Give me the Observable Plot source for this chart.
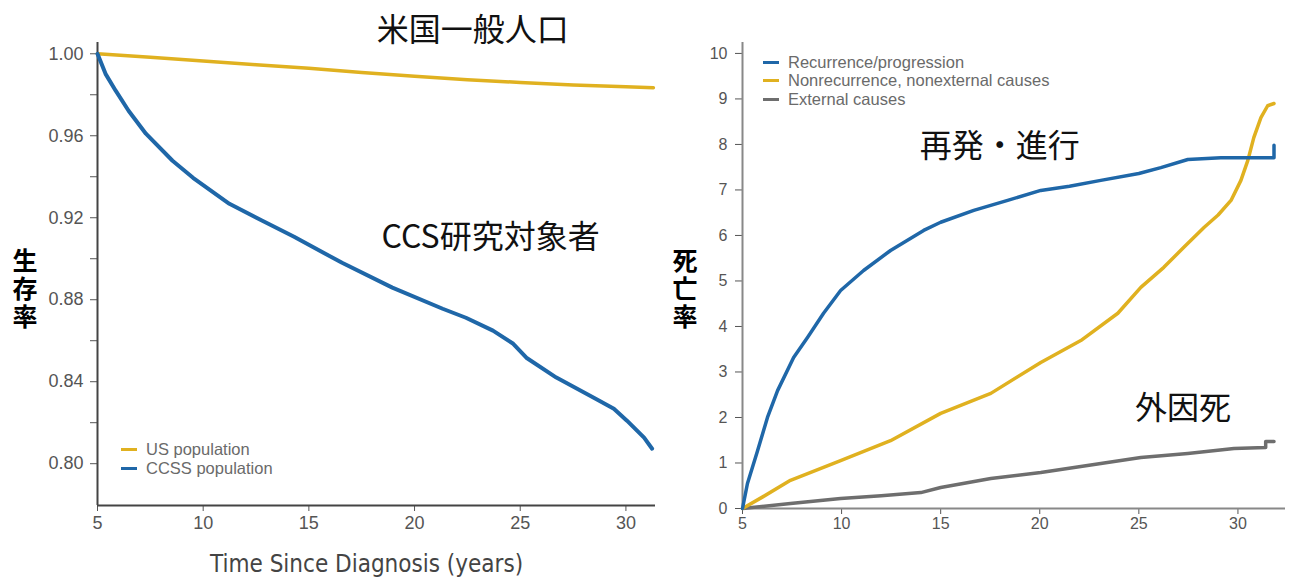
<!DOCTYPE html>
<html>
<head>
<meta charset="utf-8">
<script src="https://cdn.jsdelivr.net/npm/d3@7"></script>
<script src="https://cdn.jsdelivr.net/npm/@observablehq/plot@0.6"></script>
<style>
  html, body { margin: 0; padding: 0; background: #fff; }
  #wrap { position: relative; width: 1292px; height: 579px; overflow: hidden; background: #fff; }
  #left, #right { position: absolute; top: 0; }
  #left { left: 0; }
  #right { left: 660px; }
  .ylab { position: absolute; font-family: "Noto Sans CJK JP", sans-serif; font-weight: 700; font-size: 25px; line-height: 30px; color: #000; writing-mode: vertical-rl; text-orientation: upright; letter-spacing: 3px; }
  .xlab { position: absolute; font-family: "Liberation Sans Narrow", "DejaVu Sans Condensed", sans-serif; font-size: 24px; color: #444; white-space: nowrap; }
  .legend { position: absolute; font-family: "Liberation Sans", Arial, sans-serif; color: #6a6a6a; white-space: nowrap; }
  .legend div { display: flex; align-items: center; }
  .legend span.sw { display: inline-block; width: 16px; height: 3px; margin-right: 9px; }
</style>
</head>
<body>
<div id="wrap">
  <div id="left"></div>
  <div id="right"></div>
</div>
<script>
// ---------- Data ----------
const leftYTicks = [0.80, 0.82, 0.84, 0.86, 0.88, 0.90, 0.92, 0.94, 0.96, 0.98, 1.00];
const xTicks = [5, 10, 15, 20, 25, 30];
const rightYTicks = [0, 1, 2, 3, 4, 5, 6, 7, 8, 9, 10];

const leftSeries = ["US population", "CCSS population"];
const rightSeries = ["Recurrence/progression", "Nonrecurrence, nonexternal causes", "External causes"];

const usYears = [5, 7.5, 10, 12.5, 15, 17.5, 20, 22.5, 25, 27.5, 30, 31.3];
const usSurv  = [1.000, 0.9983, 0.9965, 0.9947, 0.9929, 0.9909, 0.9890, 0.9873, 0.9860, 0.9848, 0.9839, 0.9834];

const ccssYears = [5, 5.38, 5.86, 6.47, 7.29, 8.55, 9.52, 11.24, 12.8, 14.3, 16.57, 18.95, 21.33, 22.43, 23.71, 24.67, 25.29, 26.71, 28.48, 29.43, 30.05, 30.86, 31.24];
const ccssSurv  = [1.000, 0.9902, 0.9820, 0.9722, 0.9610, 0.9478, 0.9395, 0.9268, 0.9185, 0.9107, 0.8980, 0.8859, 0.8756, 0.8712, 0.8649, 0.8585, 0.8517, 0.8420, 0.8322, 0.8268, 0.8210, 0.8127, 0.8073];

const recYears = [5, 5.25, 5.76, 6.26, 6.77, 7.58, 8.28, 9.09, 9.95, 11.11, 12.47, 14.14, 15.0, 16.67, 18.38, 20.05, 21.5, 23.08, 25.0, 26.11, 27.47, 29.14, 31.82, 31.82];
const recVals  = [0, 0.55, 1.27, 2.0, 2.59, 3.32, 3.76, 4.29, 4.79, 5.23, 5.67, 6.11, 6.29, 6.55, 6.77, 6.99, 7.08, 7.21, 7.36, 7.49, 7.67, 7.71, 7.71, 7.98];

const nonYears = [5, 6, 7.42, 9.95, 12.47, 15, 17.53, 20.05, 22.07, 23.94, 25.1, 26.26, 27.27, 28.3, 29.0, 29.65, 30.15, 30.5, 30.8, 31.16, 31.5, 31.82];
const nonVals  = [0, 0.25, 0.62, 1.05, 1.49, 2.09, 2.53, 3.21, 3.69, 4.29, 4.86, 5.30, 5.74, 6.18, 6.45, 6.77, 7.21, 7.65, 8.15, 8.59, 8.85, 8.90];

const extYears = [5, 7.42, 9.95, 12.0, 14.0, 15.0, 17.53, 20.05, 23.08, 25.1, 27.47, 29.8, 31.4, 31.4, 31.82];
const extVals  = [0, 0.11, 0.22, 0.28, 0.35, 0.46, 0.66, 0.79, 0.99, 1.12, 1.21, 1.32, 1.34, 1.47, 1.47];

const gold = "#e0b120";
const blue = "#1f67a8";
const gray = "#6e6e6e";

const rows = (xs, ys, s) => xs.map((x, i) => ({x, y: ys[i], s}));

const usRows = rows(usYears, usSurv, leftSeries[0]);
const ccssRows = rows(ccssYears, ccssSurv, leftSeries[1]);
const recRows = rows(recYears, recVals, rightSeries[0]);
const nonRows = rows(nonYears, nonVals, rightSeries[1]);
const extRows = rows(extYears, extVals, rightSeries[2]);

const jp = "'Noto Sans CJK JP', 'Noto Sans CJK SC', sans-serif";

// ---------- Left chart ----------
const leftY0 = 0.7796, leftY1 = 1.0055;
const leftPlot = Plot.plot({
  width: 660, height: 579,
  marginLeft: 97, marginRight: 5, marginTop: 42, marginBottom: 74,
  style: {fontFamily: "'Liberation Sans', Arial, sans-serif", fontSize: "18px", color: "#555", background: "transparent", overflow: "visible"},
  x: {domain: [5, 31.4], ticks: xTicks, tickSize: 6, tickPadding: 5, label: null},
  y: {domain: [leftY0, leftY1], ticks: leftYTicks, tickSize: 7, tickPadding: 7, label: null,
      tickFormat: d => (Math.round(d * 100) % 4 === 0 ? d.toFixed(2) : "")},
  marks: [
    Plot.ruleX([5], {stroke: "#444", strokeWidth: 2}),
    Plot.ruleY([leftY0], {stroke: "#444", strokeWidth: 2}),
    Plot.line(usRows, {x: "x", y: "y", stroke: gold, strokeWidth: 3.5}),
    Plot.line(ccssRows, {x: "x", y: "y", stroke: blue, strokeWidth: 4}),
    Plot.text([{x: 22.75, y: 1.0114, t: "米国一般人口"}], {x: "x", y: "y", text: "t", fontSize: 32, fill: "#111", fontFamily: jp}),
    Plot.text([{x: 23.6, y: 0.9104, t: "CCS研究対象者"}], {x: "x", y: "y", text: "t", fontSize: 32, fill: "#111", fontFamily: jp})
  ]
});
document.getElementById("left").appendChild(leftPlot);

// ---------- Right chart ----------
const rightY1 = 10.24;
const rightPlot = Plot.plot({
  width: 632, height: 579,
  marginLeft: 82, marginRight: 7, marginTop: 42, marginBottom: 71,
  style: {fontFamily: "'Liberation Sans', Arial, sans-serif", fontSize: "16px", color: "#555", background: "transparent", overflow: "visible"},
  x: {domain: [5, 32.4], ticks: xTicks, tickSize: 6, tickPadding: 3, label: null},
  y: {domain: [0, rightY1], ticks: rightYTicks, tickSize: 7, tickPadding: 8, label: null},
  marks: [
    Plot.ruleX([5], {stroke: "#888", strokeWidth: 2}),
    Plot.ruleY([0], {stroke: "#888", strokeWidth: 2}),
    Plot.line(extRows, {x: "x", y: "y", stroke: gray, strokeWidth: 3.5}),
    Plot.line(nonRows, {x: "x", y: "y", stroke: gold, strokeWidth: 3.5}),
    Plot.line(recRows, {x: "x", y: "y", stroke: blue, strokeWidth: 3.5}),
    Plot.text([{x: 13.95, y: 7.96, t: "再発・進行"}], {x: "x", y: "y", text: "t", fontSize: 32, fill: "#111", fontFamily: jp, textAnchor: "start"}),
    Plot.text([{x: 24.8, y: 2.2, t: "外因死"}], {x: "x", y: "y", text: "t", fontSize: 32, fill: "#111", fontFamily: jp, textAnchor: "start"})
  ]
});
document.getElementById("right").appendChild(rightPlot);

// ---------- HTML labels & legends ----------
const wrap = document.getElementById("wrap");
function addDiv(cls, html, styles) {
  const d = document.createElement("div");
  d.className = cls;
  d.innerHTML = html;
  Object.assign(d.style, styles);
  wrap.appendChild(d);
  return d;
}
addDiv("ylab", "生存率", {left: "10px", top: "248px"});
addDiv("ylab", "死亡率", {left: "670px", top: "248px"});
addDiv("xlab", "Time Since Diagnosis (years)", {left: "210px", top: "550px"});

const leftColors = [gold, blue];
addDiv("legend", leftSeries.map((s, i) => `<div style="height:19px"><span class="sw" style="background:${leftColors[i]}"></span>${s}</div>`).join(""),
  {left: "121px", top: "440px", fontSize: "16.5px"});
const rightColors = [blue, gold, gray];
addDiv("legend", rightSeries.map((s, i) => `<div style="height:18.5px"><span class="sw" style="background:${rightColors[i]}"></span>${s}</div>`).join(""),
  {left: "763px", top: "53px", fontSize: "16.5px"});
</script>
</body>
</html>
